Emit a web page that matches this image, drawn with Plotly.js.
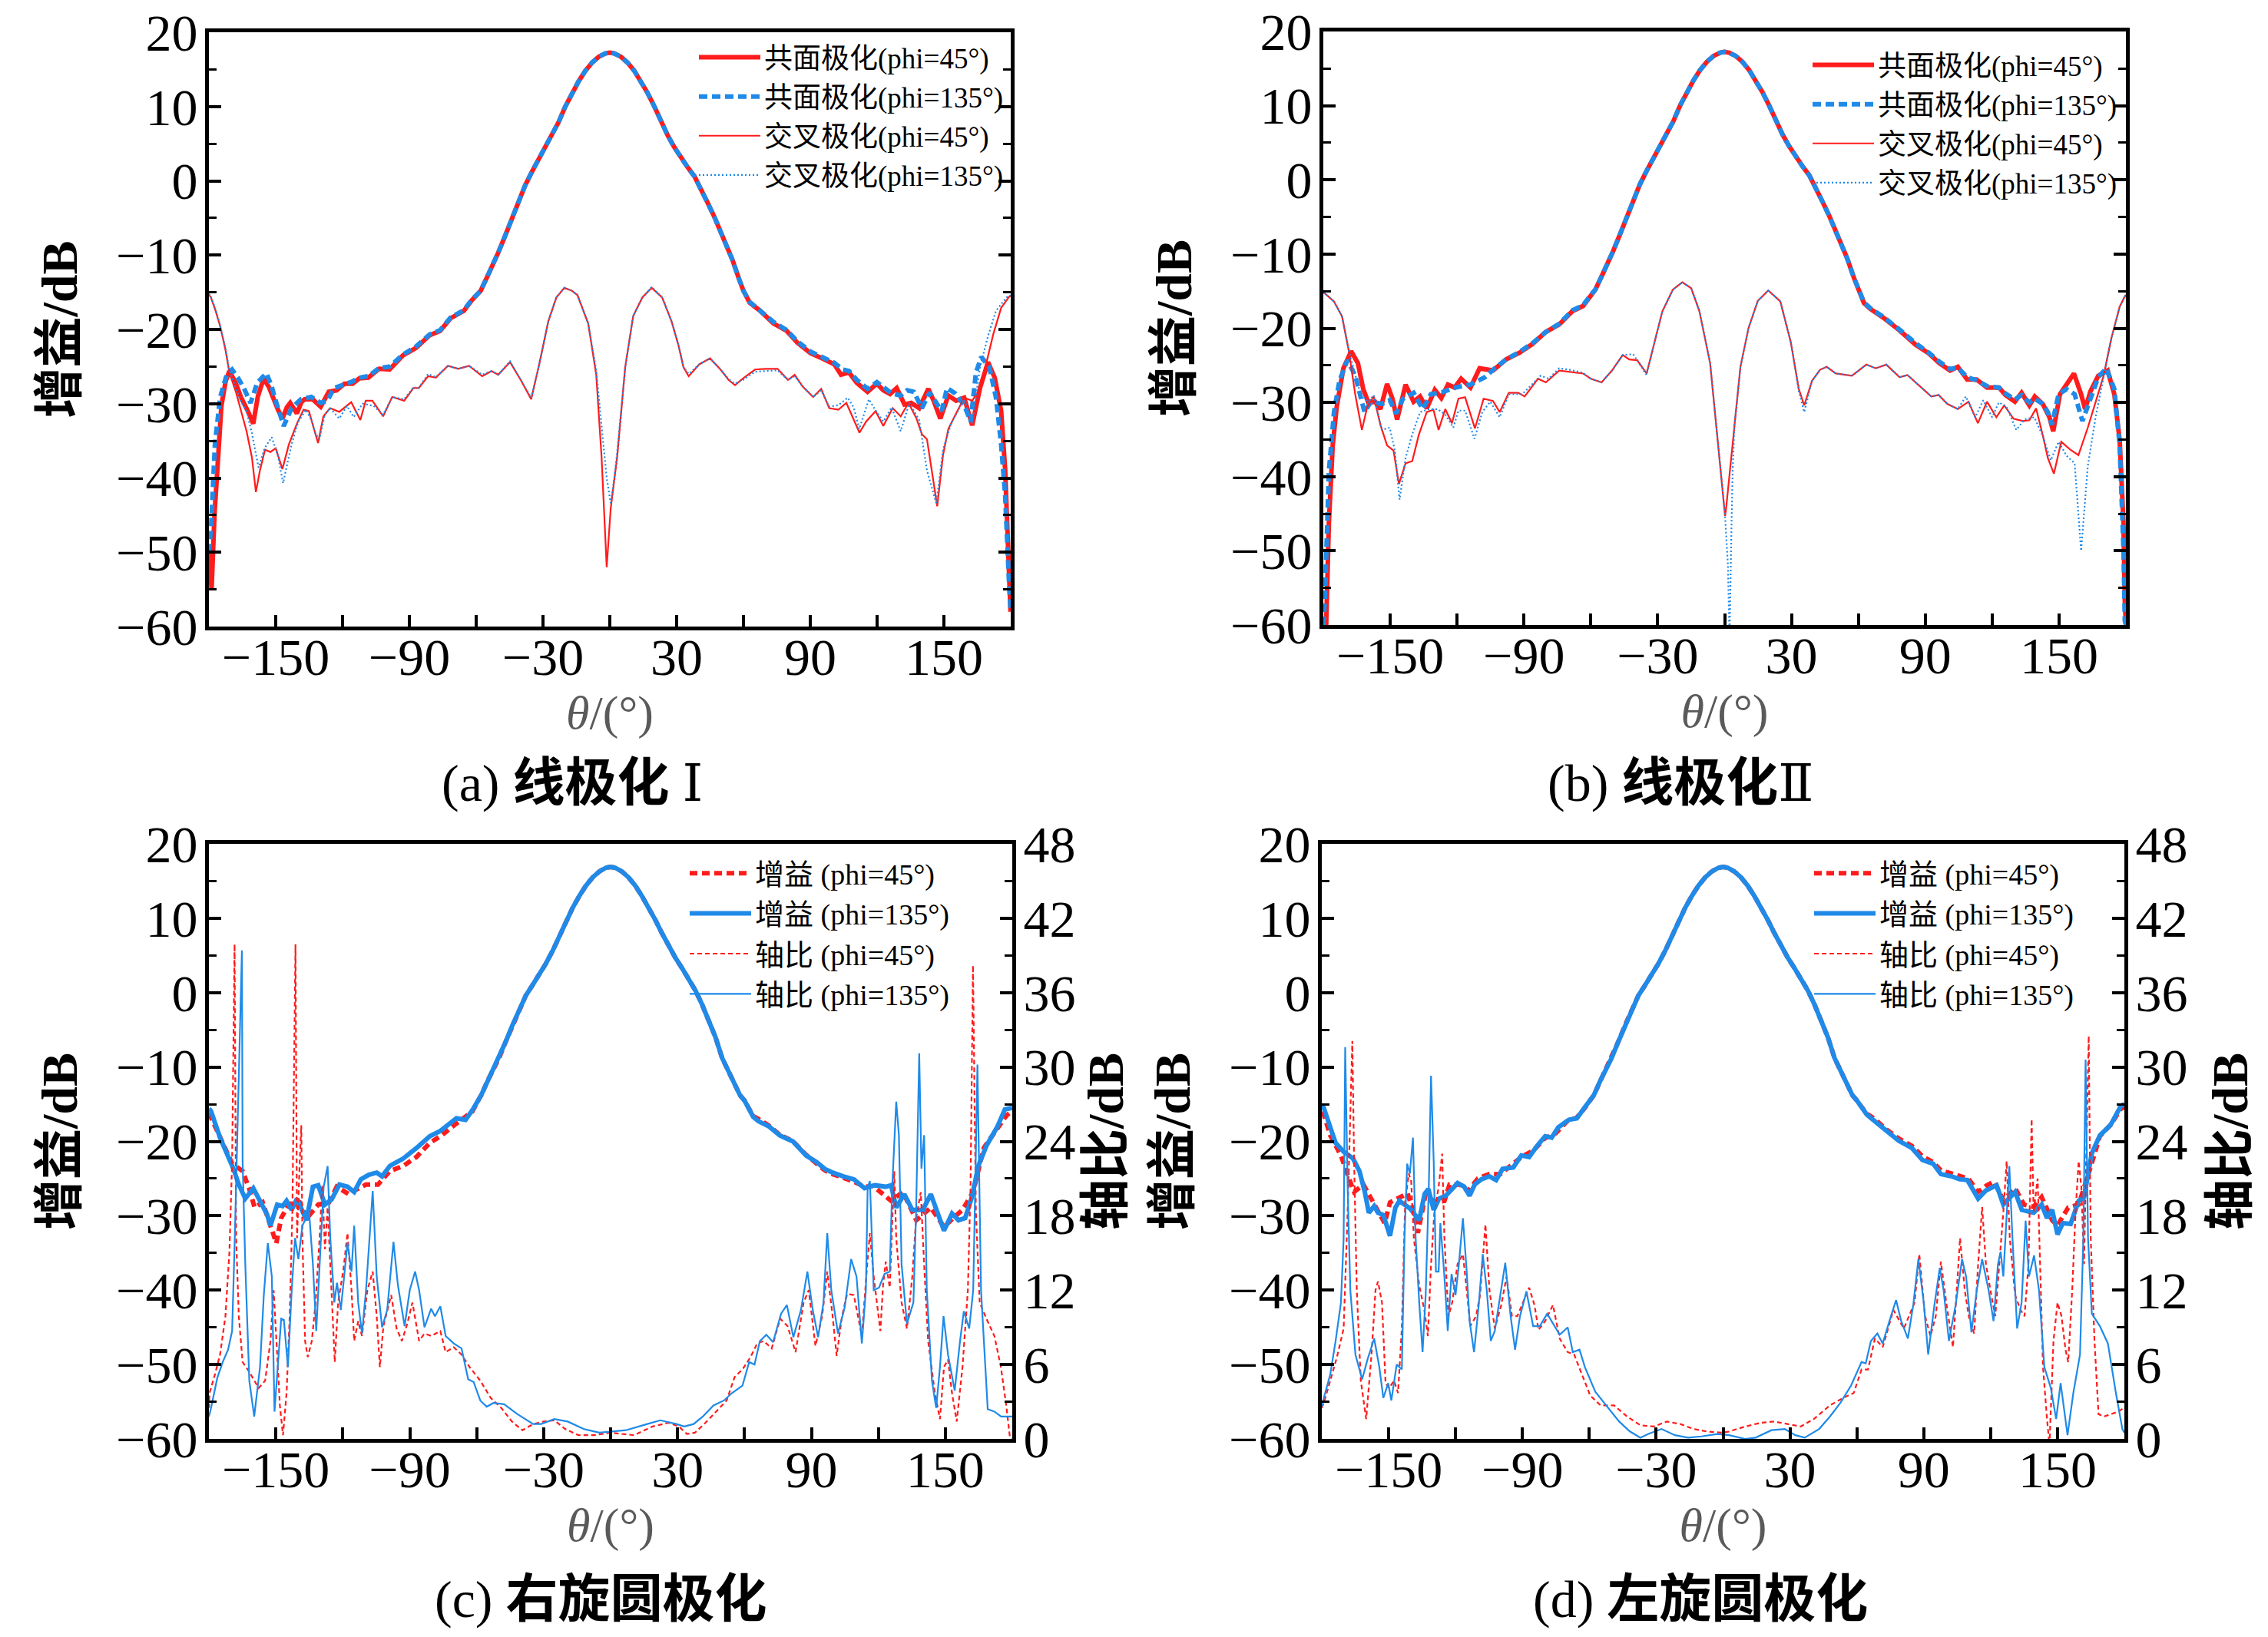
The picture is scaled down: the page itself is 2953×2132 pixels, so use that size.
<!DOCTYPE html>
<html><head><meta charset="utf-8">
<script src="https://cdn.plot.ly/plotly-3.0.1.min.js"></script>
<style>html,body{margin:0;padding:0;background:#fff}#chart{width:2953px;height:2132px}</style>
</head><body><div id="chart"></div>
<script>
// ---------------- DATA (theta in degrees, gain in dB, axial ratio in dB) ----------------
const THETA_TICKS = [-150,-120,-90,-60,-30,0,30,60,90,120,150];
const THETA_LABELS = ['\u2212150','','\u221290','','\u221230','','30','','90','','150'];
const LEGEND_LP = ['共面极化(phi=45°)','共面极化(phi=135°)','交叉极化(phi=45°)','交叉极化(phi=135°)'];
const LEGEND_CP = ['增益 (phi=45°)','增益 (phi=135°)','轴比 (phi=45°)','轴比 (phi=135°)'];
const CAPTIONS = ['(a) <b>线极化</b> Ⅰ','(b) <b>线极化</b>Ⅱ','(c) <b>右旋圆极化</b>','(d) <b>左旋圆极化</b>'];

// shared main lobe (linear polarisation panels)
const MAIN_LP = [[-58,-14.8],[-55,-12.9],[-52,-11.0],[-50,-9.6],[-47,-7.4],[-44,-5.0],[-41,-2.8],[-38,-0.6],[-35,1.2],[-32,2.8],[-29,4.4],[-26,6.0],[-23,7.9],[-20,10.0],[-17,11.8],[-14,13.4],[-11,14.8],[-8,15.9],[-5,16.7],[-2,17.15],[0,17.25],[2,17.15],[5,16.7],[8,15.9],[11,14.8],[14,13.4],[17,11.8],[20,10.0],[23,8.0],[26,6.1],[29,4.5],[32,3.1],[35,1.8],[38,0.6],[41,-1.1],[44,-3.0],[47,-4.9],[50,-6.9],[53,-9.0],[55,-10.6],[58,-13.2],[60,-14.8]];
// shared main lobe (circular polarisation panels)
const MAIN_CP = [[-58,-13.8],[-55,-11.8],[-52,-10.1],[-50,-8.8],[-47,-6.6],[-44,-4.4],[-41,-2.3],[-38,-0.4],[-35,1.0],[-32,2.4],[-29,3.9],[-26,5.6],[-23,7.6],[-20,9.6],[-17,11.4],[-14,13.0],[-11,14.4],[-8,15.5],[-5,16.3],[-2,16.8],[0,16.9],[2,16.8],[5,16.3],[8,15.5],[11,14.4],[14,13.0],[17,11.5],[20,9.8],[23,8.0],[26,6.2],[29,4.7],[32,3.3],[35,1.8],[38,0.3],[41,-1.6],[44,-3.8],[47,-6.0],[50,-8.8],[53,-10.8],[56,-12.6],[58,-13.8],[60,-14.5]];

// (a) linear polarisation I
const A_CO45_L = [[-180,-50],[-178.8,-55],[-177.5,-45],[-176.2,-38.9],[-175,-33],[-174.4,-30.3],[-172.5,-27],[-170.8,-25.6],[-168,-27.2],[-165.5,-29.2],[-162.5,-31],[-160.1,-32.7],[-158,-29],[-155.4,-26.6],[-153,-27.8],[-151.2,-29.2],[-149,-30.8],[-147,-32],[-145,-30.5],[-143.5,-29.9],[-140.5,-31.3],[-138.5,-29.8],[-137,-29.4],[-133.4,-29.4],[-129.8,-30.4],[-126.2,-28.4],[-122.7,-28.2],[-119.1,-27.3],[-115.5,-27.3],[-112.5,-26.6],[-108.4,-26.5],[-103.6,-25.3],[-98.9,-25.4],[-92.9,-23.5],[-87,-22.5],[-81,-20.8],[-76.2,-20.2],[-71.5,-18.5],[-65.5,-17.5],[-62,-16.1]];
const A_CO45_R = [[62.8,-16.4],[67.5,-17.5],[73.5,-19.2],[79.4,-20.2],[84.2,-21.8],[90.1,-23.2],[96.1,-24],[100.8,-24.7],[103.8,-26.1],[107.4,-25.8],[110.9,-27.2],[115.7,-28.4],[119.9,-27.3],[122.8,-28.2],[125.8,-28.7],[128.8,-27.9],[132.3,-30.1],[135.3,-29.9],[138.9,-30.6],[143,-28],[145.4,-29.6],[148.4,-32],[152,-28.9],[155.5,-29.6],[159.1,-29.2],[162.7,-32.9],[166.2,-27.9],[169.8,-24.4],[172.8,-26.5],[175.7,-31],[177.5,-38.9],[178.7,-49.3],[179.9,-58]];
const A_CO135_L = [[-180,-50],[-179,-46.5],[-177.3,-35.5],[-175,-29.2],[-172,-26.1],[-169.6,-25.4],[-167,-26.5],[-164.3,-27.9],[-161.3,-29.9],[-158.3,-27.2],[-154.2,-25.9],[-152,-27.5],[-150,-29.6],[-146.4,-33],[-142.9,-30.6],[-138.7,-29.4],[-134,-29.1],[-129.8,-29.9],[-126.8,-29.6],[-123.8,-27.9],[-119.1,-27.4],[-115.5,-27.0],[-112.5,-26.5],[-108.4,-26.3],[-103.6,-25.2],[-98.9,-25.0],[-92.9,-23.4],[-87,-22.3],[-81,-20.7],[-76.2,-20.1],[-71.5,-18.4],[-65.5,-17.4],[-62,-16.0]];
const A_CO135_R = [[62.8,-16.3],[67.5,-17.4],[73.5,-19.0],[79.4,-20.1],[84.2,-21.6],[90.1,-23.0],[96.1,-23.8],[100.8,-24.5],[104.5,-25.4],[107.4,-25.6],[110.9,-26.8],[115.7,-28.0],[119.9,-27.1],[122.8,-27.8],[126.5,-28.6],[130.6,-28.9],[133.5,-28.2],[136.5,-28.4],[140.1,-30.6],[143.6,-28.5],[146.5,-29.8],[149,-31],[151.4,-27.9],[155,-28.6],[159.1,-30.2],[162,-32.4],[164.4,-25.8],[166.8,-23.7],[170.4,-25.1],[173.4,-29.2],[175.7,-35.5],[177.5,-42.4],[179.3,-54.5],[180,-58]];
const A_CX45 = [[-180,-15.3],[-179.1,-15.7],[-177,-17.5],[-175,-19.5],[-172.6,-22.7],[-170.8,-25.8],[-167.8,-28.5],[-165.5,-31],[-163.1,-33.7],[-160.7,-37.2],[-158.9,-41.9],[-157.1,-39],[-154.8,-36.2],[-152.4,-36.5],[-150,-36],[-147,-38.8],[-144.1,-35.5],[-140.5,-32.7],[-137.5,-30.8],[-135.1,-31],[-132.8,-33.4],[-131,-35.3],[-128.6,-31.7],[-125.6,-30.6],[-121.5,-31.1],[-116.1,-29.8],[-112,-32.2],[-109.6,-29.6],[-106.6,-29.6],[-101.8,-31.7],[-97.7,-29.1],[-92.3,-29.6],[-88.2,-27.9],[-85.8,-27.9],[-81.6,-26.3],[-78.1,-26.5],[-72.7,-24.9],[-68,-25.3],[-63.2,-24.9],[-57.3,-26.3],[-53.1,-25.6],[-50.1,-26.1],[-44.8,-24.4],[-40,-26.8],[-35.3,-29.4],[-31.7,-24.7],[-27.6,-18.9],[-24,-15.7],[-20.4,-14.4],[-17,-14.8],[-14.5,-15.4],[-9.7,-19.2],[-6.1,-26.1],[-3.7,-37.2],[-1.4,-52],[0.4,-44.1],[3.3,-37.2],[6.9,-25.1],[10.5,-18.2],[14.6,-15.7],[18.8,-14.4],[23.5,-15.7],[27.7,-18.9],[30.7,-22],[33.1,-25.1],[35.4,-26.3],[40.2,-24.7],[45,-23.9],[49.7,-25.4],[53.3,-26.8],[56.2,-27.5],[59.8,-26.6],[65.2,-25.4],[69.9,-25.3],[75.3,-25.3],[80,-26.8],[83,-26.1],[86.6,-27.7],[91.3,-29.1],[94.9,-28],[98.5,-30.6],[102.6,-30.8],[106.2,-29.9],[109.2,-32],[112.1,-33.9],[115.1,-32.4],[119.3,-31],[122.8,-33],[127,-30.6],[130.6,-31.7],[134.1,-29.9],[137.7,-32],[140.1,-34.1],[142.4,-34.8],[144.8,-39.6],[147,-43.8],[149.6,-36.9],[152,-33.4],[155.5,-31.3],[159.1,-29.2],[162.7,-29.6],[165.1,-28.5],[168.6,-25.1],[172.2,-20.6],[175.7,-17.1],[179.3,-15.6],[180,-15.5]];
const A_CX135 = [[-180,-15.2],[-179.1,-15.6],[-177,-17.3],[-175,-19.4],[-172.6,-22.5],[-170.8,-25.5],[-167.8,-28],[-165.5,-29.8],[-163.1,-31],[-160.7,-34],[-157.7,-38.6],[-155,-36],[-151.8,-34.5],[-149,-37],[-146.7,-40.7],[-142.9,-35.5],[-140,-32.5],[-136.4,-30.8],[-134,-32.2],[-132.2,-34],[-130.4,-34.8],[-128,-31.5],[-125.6,-30.6],[-121.5,-32],[-118,-30.3],[-115,-31.8],[-111,-30.0],[-106,-30.3],[-101.8,-31.5],[-97.7,-29.1],[-92.3,-29.4],[-88.2,-27.8],[-85.8,-27.9],[-81.6,-26.0],[-78.1,-26.4],[-72.7,-24.9],[-68,-25.3],[-63.2,-24.9],[-57.3,-26.1],[-53.1,-25.6],[-50.1,-26.1],[-44.8,-24.3],[-40,-26.8],[-35.3,-29.2],[-31.7,-24.7],[-27.6,-18.9],[-24,-15.7],[-20.4,-14.4],[-17,-14.8],[-14.5,-15.4],[-9.7,-19.2],[-6.1,-25.5],[-3.7,-33],[-1.4,-40],[0.4,-43.4],[2,-40],[3.3,-36.5],[6.9,-25.1],[10.5,-18.2],[14.6,-15.7],[18.8,-14.3],[23.5,-15.7],[27.7,-18.9],[30.7,-22],[33.1,-25.1],[35.4,-26.0],[40.2,-24.7],[45,-23.9],[49.7,-25.4],[53.3,-26.7],[56.2,-27.3],[59.8,-26.8],[65.2,-25.7],[69.9,-25.6],[75.3,-25.5],[80,-26.8],[83,-26.3],[86.6,-27.7],[91.3,-29.1],[94.9,-28.2],[98.5,-30.4],[102.6,-30.2],[106.8,-29.2],[109.5,-30.5],[112,-33.4],[116.3,-29.4],[119.3,-30.9],[122.8,-32.4],[126.5,-30.5],[130.6,-33.7],[134.5,-29.9],[138.9,-32.2],[142.4,-39],[146.6,-43.4],[149.6,-36.2],[153.2,-32.7],[159.1,-29.4],[162.7,-32.7],[166.2,-25.1],[169.8,-20.9],[173.4,-17.5],[178.1,-15.7],[180,-15.4]];

// (b) linear polarisation II
const B_CO45_L = [[-180,-60],[-178.7,-59.8],[-177.5,-46.2],[-175.8,-35.8],[-174,-30.6],[-171,-25.4],[-167.5,-23.1],[-164.5,-24.7],[-162.1,-28.2],[-159.7,-30.1],[-156.8,-29.9],[-154.4,-30.9],[-151.4,-27.5],[-149,-29.5],[-146.9,-32.3],[-143.1,-27.6],[-139.5,-29.9],[-136.6,-29.2],[-133.6,-30.8],[-130,-28.3],[-127.1,-29.4],[-124.1,-27.6],[-121.1,-28],[-118.2,-26.8],[-114,-28],[-109.9,-25.4],[-103.9,-25.7],[-98,-24.2],[-92,-23.3],[-86.1,-22.1],[-80.2,-20.5],[-74.2,-19.5],[-68.3,-17.7],[-63.5,-17],[-60.5,-15.8]];
const B_CO45_R = [[62.5,-16.6],[65.4,-17.4],[71.3,-18.6],[78.5,-20.3],[85.6,-22.2],[91.6,-23.4],[96.3,-24.7],[101.1,-25.7],[104.6,-25.2],[108.8,-26.9],[113,-26.9],[117.7,-28],[123.1,-28],[126,-29],[130.2,-29.9],[133.2,-28.7],[136.7,-30.4],[139.1,-29.2],[142.7,-30.2],[145.7,-32],[147.4,-33.9],[150.4,-28.9],[153.4,-27.5],[156.7,-26.1],[159.9,-28.9],[161.7,-30.9],[164.1,-28.5],[167.6,-26.4],[171.8,-25.7],[174.8,-28.9],[177.2,-35.1],[178.9,-46.2],[179.5,-56.6],[180,-60]];
const B_CO135_L = [[-180,-60],[-179.3,-56.6],[-177.5,-39.3],[-175.2,-31.3],[-172.8,-27.1],[-169.2,-24.3],[-165.7,-26.4],[-163.3,-28.9],[-161.5,-31.3],[-158.6,-29.9],[-153.8,-30.2],[-150.2,-29.7],[-147.3,-31.5],[-144.3,-29.5],[-139.5,-28.7],[-135.4,-30.9],[-131.8,-28.9],[-126.5,-28.6],[-121,-28.0],[-114,-27.6],[-107.5,-26.6],[-103.9,-25.6],[-98,-24.2],[-92,-23.2],[-86.1,-22.0],[-80.2,-20.5],[-74.2,-19.4],[-68.3,-17.6],[-63.5,-16.9],[-60.5,-15.7]];
const B_CO135_R = [[62.5,-16.5],[65.4,-17.3],[71.3,-18.5],[78.5,-20.2],[85.6,-22.0],[91.6,-23.3],[96.3,-24.5],[101.1,-25.5],[104.6,-25.3],[108.8,-26.6],[113,-27.0],[117.7,-27.8],[123.1,-28.0],[126,-28.8],[130.2,-29.6],[133.2,-29.0],[136.7,-30.0],[139.1,-29.5],[142.7,-30.2],[145,-31.3],[146.8,-33],[149.8,-28.9],[153.4,-28.2],[157,-28.9],[160.5,-32.5],[164.1,-29.5],[167.6,-26.6],[171.2,-25.4],[174.8,-28.2],[177.2,-35.8],[178.9,-49.7],[179.5,-59.4],[180,-60]];
const B_CX45 = [[-180,-15.2],[-179.3,-15.3],[-175.2,-16.4],[-171.6,-18.4],[-168.6,-23],[-165.7,-28.9],[-162.7,-33.7],[-160.3,-30.6],[-157.4,-29.2],[-154.4,-33],[-151.4,-35.8],[-148.5,-36.5],[-146.1,-41],[-143.1,-38.2],[-140.1,-37.9],[-137.2,-34.4],[-133.6,-31.3],[-130.6,-31],[-128.3,-33.7],[-125.3,-30.9],[-122.3,-32.8],[-119.4,-29.5],[-116.4,-29.3],[-112,-33.5],[-108.1,-29.5],[-103.9,-29.8],[-100.9,-31.3],[-96.8,-28.7],[-92.6,-28.7],[-89.7,-29.2],[-83.7,-26.8],[-80.2,-27.3],[-74.2,-25.7],[-69.5,-25.9],[-63.5,-26.1],[-60,-26.8],[-55.2,-27.3],[-50.5,-25.7],[-45.7,-23.6],[-42.8,-24.2],[-39.2,-24.3],[-35,-26.1],[-31.5,-21.9],[-27.9,-17.7],[-23.2,-14.8],[-19,-13.8],[-15,-14.6],[-11.3,-17.7],[-6.5,-24.7],[-3,-35.8],[0.2,-45.3],[0.6,-44.5],[4.2,-33.8],[7.1,-25.2],[10.7,-20],[14.9,-16.3],[19.6,-14.9],[25,-16.4],[29.7,-21.9],[33.3,-28.2],[35.7,-30.4],[39.2,-27.1],[42.8,-25.6],[45.8,-25.2],[49.9,-26.1],[57.1,-26.4],[63.6,-24.9],[67.8,-25.4],[72.5,-24.9],[78.5,-26.6],[82,-26.3],[89.2,-28.3],[92.7,-29.2],[96,-29.0],[99.9,-30.2],[104.6,-30.9],[109.4,-29.9],[113.6,-32.8],[117.7,-29.9],[121.9,-32],[125.4,-30.4],[129.6,-32.2],[133.8,-32.5],[136.7,-32.4],[139.7,-30.8],[142.7,-34.4],[145,-37.5],[147.7,-39.6],[151,-35.3],[155.2,-36.4],[158.7,-37.1],[162.9,-33.4],[166.5,-29.9],[170,-26.4],[173.6,-21.2],[177.2,-17.1],[179.5,-15.7],[180,-15.5]];
const B_CX135 = [[-180,-15.2],[-179.3,-15.3],[-175.2,-16.4],[-171.6,-18.4],[-168.6,-23],[-165.7,-26.1],[-163.3,-28.9],[-159.7,-29.9],[-157.4,-29],[-153.8,-33.7],[-150.2,-33.4],[-147.9,-36.5],[-145.8,-43.1],[-143.1,-37.5],[-140.1,-34.3],[-136.6,-31.3],[-132.4,-30.9],[-128.8,-30.9],[-125.3,-31.6],[-121.7,-33.4],[-119.4,-31.1],[-116.4,-31.1],[-112.2,-34.9],[-108.7,-31.3],[-105.1,-29.9],[-100.9,-32],[-96.8,-28.9],[-90.8,-28.9],[-82.5,-26.4],[-78.9,-26.8],[-74.2,-25.4],[-69.5,-25.6],[-63.5,-26.0],[-60,-26.8],[-55.2,-27.3],[-50.5,-25.7],[-45.7,-23.6],[-41,-23.5],[-39.2,-24.3],[-35,-26.3],[-31.5,-21.9],[-27.9,-17.7],[-23.2,-14.8],[-19,-13.8],[-15,-14.6],[-11.3,-17.7],[-6.5,-24.7],[-3,-35.8],[0.2,-45.3],[1.5,-52],[2.2,-62],[3,-48],[3.6,-39.3],[4.4,-33],[7.1,-25.2],[10.7,-20],[14.9,-16.3],[19.6,-14.9],[25,-16.4],[29.7,-21.9],[33.3,-28.5],[35.7,-31.3],[39.2,-27.1],[42.8,-25.6],[45.8,-25.2],[49.9,-26.1],[57.1,-26.4],[63.6,-24.9],[67.8,-25.4],[72.5,-24.9],[78.5,-26.6],[82,-26.3],[89.2,-28.3],[92.7,-29.2],[96,-29.0],[99.9,-30.2],[104.6,-30.9],[108.2,-29.2],[112.4,-32],[116,-29.7],[120,-32],[123,-30],[126.5,-30.6],[130.8,-33.7],[134.5,-32.3],[138.9,-32],[142.7,-34.5],[146.3,-37.8],[149.8,-35.3],[153.4,-37.2],[157,-38.2],[159.9,-50],[162.9,-38.6],[166.5,-31.8],[170,-26.6],[173,-22],[177.2,-17.1],[179.5,-15.7],[180,-15.5]];

// (c) right-hand circular polarisation
const C_G45_L = [[-180,-16.2],[-179,-16.8],[-173.8,-20.2],[-169.6,-23],[-164.9,-24],[-161.9,-26.4],[-159.5,-28.9],[-155.9,-28.2],[-152.4,-31.3],[-149.8,-33.7],[-147.6,-30.3],[-144,-28.4],[-139.3,-28.2],[-136.3,-30.4],[-131,-28.5],[-126.2,-28.2],[-122.7,-26.1],[-117.3,-27.1],[-114,-26.5],[-109.6,-25.8],[-104.2,-25.8],[-98.9,-24],[-92.9,-23.3],[-87,-22.1],[-81,-20.2],[-75.7,-19.2],[-69.1,-17.6],[-62,-16],[-59.5,-14.6]];
const C_G45_R = [[63.9,-16.6],[66.3,-17.0],[71,-17.9],[75.8,-19.1],[81.7,-20.0],[87.6,-21.8],[92.4,-22.9],[96,-23.9],[99.5,-24.4],[104.3,-24.9],[109,-25.4],[113.8,-26.1],[117.5,-26.0],[120.9,-26.8],[125.7,-28],[131,-26.8],[137,-30.6],[143.5,-28.9],[149.4,-31.5],[154,-30.2],[157.7,-29.2],[162.5,-26.8],[167.2,-20.9],[173,-18.4],[177.5,-16.5],[180,-15.9]];
const C_G135_L = [[-180,-15.6],[-179.1,-15.9],[-175,-19.5],[-171.4,-22],[-169,-23.7],[-166.6,-25.8],[-163.7,-27.7],[-160.1,-26.3],[-156.5,-28.2],[-154,-29.8],[-152.4,-31.3],[-149.4,-28.5],[-147,-28.7],[-145.2,-28],[-142.9,-29.2],[-140.5,-27.7],[-136.3,-30.6],[-133.4,-26.1],[-131,-25.9],[-128,-28.5],[-125,-27.8],[-121.5,-25.8],[-117.9,-26.1],[-114.9,-26.8],[-111.9,-25.1],[-108.4,-24.5],[-104.8,-24.2],[-102.4,-24.7],[-98.9,-23.3],[-92.9,-22.3],[-87,-20.9],[-81,-19.3],[-76.3,-18.6],[-69.1,-16.9],[-65,-17.1],[-61.5,-15.6]];
const C_G135_R = [[63.9,-16.7],[66.3,-17.3],[71,-18],[75.8,-19.2],[81.7,-20],[87.6,-21.9],[92.4,-22.8],[96,-23.7],[99.5,-24.2],[104.3,-24.7],[109,-25.1],[113.8,-26.3],[118.5,-25.9],[123.3,-26.1],[125.7,-25.9],[128,-28.9],[131.6,-27.1],[135.2,-29.2],[139.9,-29.2],[143.5,-27.1],[146.4,-29.6],[149.4,-32],[153,-29.7],[155.9,-30.6],[158.9,-30.3],[161.9,-27.5],[164.8,-23.3],[168.4,-20.6],[173.2,-18.1],[176.7,-15.7],[180,-15.5]];
const C_AR45 = [[-180,2.5],[-179.7,3.7],[-177.3,5.2],[-175,6.8],[-172.6,9.9],[-170.8,15.1],[-169.6,22.4],[-168.5,39.9],[-167.8,16.2],[-166.6,9.9],[-164.9,6.2],[-161.9,5.4],[-157.7,4.1],[-154.8,4.7],[-152.4,7.9],[-151,12],[-149.4,6.8],[-148.2,2.7],[-146.8,0.3],[-145.2,3.7],[-143.8,9.9],[-142.6,18.3],[-141.2,39.9],[-140.5,16.2],[-139.3,22.4],[-138.6,25.3],[-138.1,16.2],[-136.9,7.9],[-135.7,6.6],[-133.9,7.9],[-132.2,11],[-130.4,16.2],[-129.2,20.5],[-128,15.3],[-126.8,18.7],[-125,12],[-123.6,6.2],[-122.1,11],[-119.7,13.7],[-117.9,16.6],[-116.1,12],[-114.9,7.9],[-113.1,9.5],[-111.4,8.3],[-109,12],[-106.6,13.5],[-104.8,9.9],[-103.4,5.8],[-101.8,9.1],[-98.3,11.6],[-95.9,8.9],[-93.5,7.9],[-91.1,9.3],[-88.8,11],[-85.8,7.9],[-83.4,8.5],[-80.4,8.3],[-76.3,8.7],[-73.9,7],[-70.3,7.4],[-66.8,6.8],[-63.2,5.8],[-58.4,4.7],[-53.7,3.3],[-49,2.5],[-44.2,1.4],[-39.5,0.7],[-34.7,1.2],[-30,1.4],[-25.2,1.5],[-20.4,0.8],[-14.4,0.3],[-7.3,0.3],[-0.2,0.5],[4.5,0.4],[10.5,0.3],[18.8,1],[25.9,1.3],[30.6,1],[34.2,0.4],[37.8,0.5],[42.5,1.3],[47.3,2.2],[52,3.1],[55.6,5],[59.1,5.6],[62.7,6.6],[65.7,7.7],[68.6,7.9],[72.2,7.3],[76,9.7],[79.3,9.1],[82.9,7],[86.5,11],[88.8,12],[91.8,7.5],[94.8,9.9],[97.1,13.5],[99.5,9.9],[101.3,6.7],[103.7,9.9],[106,11.7],[109,11.6],[110.8,9.9],[112.6,8.3],[115,14.1],[116.2,16.6],[117.9,13.1],[119.7,10.4],[120.9,8.7],[122.1,12.4],[123.3,14.3],[125.1,12.2],[126.2,17.4],[127.1,21.6],[128,16.2],[130.4,11],[132.8,8.9],[135.2,13.1],[136.9,17.8],[139,19.9],[140.5,14.1],[142.3,7.9],[145.3,3.7],[147.6,1.6],[149.4,5.8],[151.2,6.4],[153,3.7],[155.1,1.4],[157.7,5.8],[160.1,12],[161.3,20.3],[162.4,38.2],[163.7,18.3],[165.4,11],[168.4,9.7],[172,8.3],[174.9,5.8],[177.3,2.7],[178.9,0.2],[180,0]];
const C_AR135 = [[-180,1.8],[-179.1,2.45],[-176.2,4.95],[-173.8,6.2],[-171.4,7.2],[-169.6,8.7],[-168.4,16.2],[-166.9,27.6],[-165.2,39.4],[-164.9,22.4],[-163.7,14.1],[-161.9,4.7],[-159.7,1.8],[-157.1,5.8],[-155.4,11.6],[-153.6,15.8],[-151.8,13.1],[-150.6,2.2],[-148.8,6.8],[-147.6,9.7],[-146.4,9.6],[-144.6,5.8],[-142.9,12],[-141.4,16.2],[-139.9,14.5],[-138.1,17.2],[-135.1,18.3],[-133.4,14.1],[-131.9,8.7],[-130.4,14.1],[-128.6,20.3],[-126.8,22],[-125.6,16.2],[-123.8,11],[-122.6,12.6],[-120.9,10.4],[-119.1,13.5],[-117.9,15.8],[-116.1,13.5],[-114.9,17.2],[-113.1,11],[-111.4,8.5],[-109.6,12],[-106.6,20],[-104.8,13.1],[-102.4,9],[-100.1,10.4],[-97.3,15.9],[-95.3,12.4],[-92.3,9.1],[-90,12],[-87.6,13.5],[-85.8,12],[-83.4,9],[-80.4,10.5],[-78.7,9.9],[-76.3,10.7],[-73.9,8.3],[-70.3,7.7],[-66.8,7.3],[-63.8,4.8],[-61.4,4.6],[-58.4,3.1],[-55.5,2.6],[-52.5,2.9],[-47.7,2.8],[-41.8,2],[-34.7,1.2],[-31.1,1.2],[-25.2,1.6],[-19.2,1.4],[-12.1,0.8],[-5,0.5],[2.2,0.6],[6.9,0.7],[16.4,1.2],[22.3,1.5],[29.5,1.2],[33,1],[37.2,1.2],[41.3,1.8],[46.1,2.7],[50.8,3.1],[54.4,3.7],[59.1,4.3],[62.1,6.2],[64.5,6],[66.9,7.9],[69.8,8.4],[72.8,7.8],[76.4,10.1],[79,10.8],[81.9,8.2],[85.3,10.4],[88.2,13.5],[90.6,10.4],[93,8.2],[95.4,11],[97.1,16.6],[98.9,12],[101.9,8.5],[104.9,10.6],[107.8,14.5],[110.2,13.1],[112.6,7.7],[114.4,12],[115.2,20.3],[116.2,20.8],[117.9,12],[120.3,12.2],[122.7,13.3],[125.1,13.5],[126.2,20.3],[128,27.2],[129.2,24.5],[130.4,14.1],[132.8,9.3],[135.7,11],[136.9,18.3],[138.3,31.1],[139.3,21.8],[140.5,24.5],[141.7,12],[144,4.7],[145.9,2.5],[147.6,5.8],[149.2,9.9],[151.2,6.8],[154.2,3.9],[156.6,7.9],[158.3,10.3],[160.7,8.9],[162.5,12],[163.4,20.3],[164.4,30.2],[166,12],[169,2.4],[172,2.2],[175,1.8],[180,1.8]];

// (d) left-hand circular polarisation
const D_G45_L = [[-180,-16],[-179,-16.5],[-176.2,-19.2],[-171.4,-21.9],[-169,-24],[-165.5,-26.8],[-161.3,-25.8],[-158.3,-27.5],[-155,-29.5],[-151.8,-31],[-149.4,-28.2],[-145.2,-27.5],[-141.5,-27],[-138.1,-30.3],[-136.9,-32.3],[-133.5,-27.2],[-129,-28.2],[-125,-28.0],[-122.7,-25.8],[-118,-25.8],[-114.5,-26.7],[-110,-25.0],[-105,-24.4],[-100,-24.4],[-95,-23.2],[-90,-22.0],[-85,-21.2],[-80,-19.6],[-75,-18.9],[-70,-17.3],[-65.6,-16.8],[-62,-15.5]];
const D_G45_R = [[64.5,-16.3],[68.1,-17.0],[72.8,-18.3],[78.7,-19.6],[84.7,-20.6],[89.4,-22.0],[94.2,-22.8],[97.7,-23.9],[102.5,-24.3],[106.1,-24.7],[110,-25.0],[114.4,-26.8],[117.9,-26.0],[121.5,-25.4],[125.7,-27.9],[131,-26.3],[135,-28.5],[139.3,-28.8],[142.9,-27.5],[147.6,-30.6],[150,-31.3],[154.8,-28.9],[159.5,-28.5],[164.3,-24],[169,-19.3],[173.8,-17.8],[178.5,-15.6],[180,-15.4]];
const D_G135_L = [[-180,-15],[-179.1,-15.5],[-176.2,-18.1],[-173.8,-20.2],[-170.2,-21.4],[-166,-22.3],[-163.1,-24],[-160.7,-26.8],[-158.9,-29.6],[-156.5,-28.7],[-154.8,-29.6],[-152.4,-29.9],[-149.4,-32.7],[-147,-28.9],[-145.2,-28],[-140.5,-29],[-136.3,-30.6],[-133.9,-27.1],[-132.2,-26.4],[-129.8,-29.2],[-127.4,-27.7],[-124.4,-27.3],[-121.5,-26.4],[-119.1,-25.6],[-116.1,-26.1],[-113.7,-27.3],[-111.4,-25.8],[-108.4,-25.1],[-104.8,-24.7],[-101.8,-25.2],[-98.9,-23.7],[-94.1,-23.5],[-90.5,-21.9],[-87,-22.1],[-83.4,-20.6],[-79.8,-19.3],[-76.9,-19.5],[-73.9,-18.1],[-69.1,-17.1],[-65.6,-16.9],[-62,-15.4]];
const D_G135_R = [[64.5,-16.4],[68.1,-17.3],[72.8,-18.5],[78.7,-19.9],[84.7,-20.9],[89.4,-22.5],[94.2,-23],[97.7,-24.4],[102.5,-24.7],[106.1,-25.1],[109.6,-25.2],[114.4,-27.7],[117.9,-26.6],[122.7,-25.9],[125.7,-28.5],[131,-26.8],[134,-29.2],[139.3,-29.6],[142.9,-28.5],[145.3,-30.3],[147.6,-29.2],[150,-32.5],[152.4,-31],[155.9,-31.1],[159.5,-28],[161.9,-27.5],[165.4,-21.6],[169,-19.2],[173.8,-17.8],[178.5,-15.2],[180,-15]];
const D_AR45 = [[-180,2.5],[-179.1,2.9],[-176.2,4.7],[-173.2,6.6],[-170.2,8.9],[-168.4,18.3],[-166.3,32.1],[-165.5,22.4],[-164.3,12],[-162.5,4.7],[-160.1,1.6],[-157.7,6.8],[-155.9,12],[-154.8,12.7],[-153,11],[-151.4,4.5],[-149.8,4.1],[-147.6,4.7],[-145.8,3.7],[-144.1,8.9],[-142.6,19.1],[-141,21.4],[-139.9,20.8],[-138.7,16.2],[-136.3,12.4],[-134,10.4],[-132.4,8.3],[-131,14.1],[-129.5,18.3],[-127.6,20.3],[-126,23],[-125,16.2],[-123.2,9.9],[-121.5,11],[-119.1,14.1],[-116.7,14.9],[-115,12],[-113.4,9.1],[-110.8,9.9],[-109,11.6],[-106.6,17.3],[-104.8,12],[-102.4,8.9],[-99.5,10.8],[-97.1,13.1],[-94.7,9.9],[-92.3,9.9],[-89.4,11.2],[-87,12.2],[-84.6,10.8],[-82.8,8.8],[-79.8,9.5],[-76.3,10.8],[-73.3,8.1],[-69.7,7],[-66.8,6.8],[-63.2,5.2],[-59.6,3.5],[-54.9,2.7],[-48.9,2.7],[-43,1.8],[-37.1,1.1],[-31.1,1],[-25.2,1.4],[-19.2,1.2],[-13.3,0.8],[-7.3,0.6],[-0.2,0.5],[2.7,0.6],[9.9,1],[17,1.3],[22.9,1.4],[28.9,1.2],[34.8,1],[40.7,1.6],[47.9,2.7],[53.8,3.3],[58.6,3.7],[62.1,5.6],[65,5.6],[68.1,8.1],[71.6,7.4],[76.4,10.4],[81.1,8.9],[85.9,11],[88,14.9],[90.6,9.9],[93,8.3],[95.4,9.9],[97.7,14.3],[100.1,11],[103.1,7.4],[104.8,12],[106.3,16.2],[108.4,12],[110.2,9.9],[112.6,8.5],[114.4,14.1],[116.2,18.7],[117.9,14.1],[120.3,11.6],[122.1,9.9],[123.9,14.1],[125.7,18.3],[127.2,22.4],[128.6,16.2],[131,11.6],[133.4,10.4],[135.2,9.9],[137,14.1],[138.4,25.8],[139.3,18.3],[141.1,21],[142.3,14.1],[143.5,5.8],[145.3,1.6],[146.4,-0.5],[148.2,7.9],[150,11],[151.8,9.9],[153.6,7.2],[154.8,6.2],[156.6,12],[158.1,18.3],[159.5,22.4],[160.7,20.3],[161.9,14.1],[164,32.5],[164.9,16.2],[166.6,7.9],[168.4,2],[170.8,1.8],[173.8,2],[177.3,2.2],[179.7,2.5],[180,2.5]];
const D_AR135 = [[-180,2.6],[-179.1,3.3],[-176.2,5.2],[-173.8,7.9],[-171.4,11],[-170.2,16.2],[-169.5,31.6],[-168.4,20.3],[-167.2,12],[-164.9,6.8],[-161.9,4.8],[-159.5,6.4],[-156.5,8.1],[-154.2,5.8],[-152.4,3.3],[-150.2,4.5],[-148.8,3.1],[-146.4,6],[-144.1,5.6],[-142.9,16.2],[-141.7,22.2],[-140.5,21.4],[-139.1,24.3],[-137.9,16.2],[-136.3,11],[-134.8,7],[-133.4,11.6],[-132,20.3],[-131,29.3],[-129.8,22.4],[-128.8,13.5],[-127.6,13.5],[-126.8,17.4],[-125,13.1],[-123.5,8.7],[-121.8,13.3],[-120,11.6],[-118.5,14.1],[-116.7,17.8],[-115,13.5],[-113.7,9.5],[-111.7,7],[-109.6,10.8],[-107.8,14.9],[-106,12],[-104.2,7.9],[-102.4,8.7],[-100.1,11.4],[-97.7,14.2],[-95.3,9.9],[-93.3,7.2],[-91.1,9.9],[-88.2,11.9],[-85.2,9.1],[-82.2,9.1],[-78.9,10.1],[-75.7,9.1],[-73.3,8.4],[-69.7,9],[-67.4,7],[-64.4,7.2],[-62,5.8],[-57.3,3.8],[-52.5,2.7],[-46.6,1.4],[-41.8,0.6],[-37.1,0.1],[-33.5,0.4],[-27.6,0.8],[-21.6,0.3],[-15.7,0.1],[-9.7,0.2],[-2.6,0.4],[2.7,0.3],[9.9,0],[14.6,0.1],[21.7,0.7],[27.7,0.8],[32.4,0.3],[36.6,0.1],[43.1,0.8],[47.9,1.8],[52.6,2.9],[57.4,4.3],[62.1,6.2],[64,6.1],[66.3,7.9],[69.2,8.5],[71.6,7.7],[74.6,9.5],[77.6,11.2],[79.9,9.5],[82.9,8.1],[85.3,10.8],[87.6,14.5],[90,11],[92,6.8],[94.8,10.8],[97.2,13.8],[98.9,12],[101.3,7.9],[104.3,10.8],[107.2,14.5],[109,13.1],[111.4,8.6],[113.8,12],[116.2,14.5],[119.1,12],[121.3,9.5],[123.3,14.1],[124.5,15.1],[125.7,13.1],[127.2,18.3],[128.4,22],[129.8,16.2],[131.9,8.9],[133.9,11],[135.7,17.6],[137.2,13.1],[139.5,14.8],[141.7,12],[144.1,5.8],[147,4.1],[149.4,1.6],[151.4,4.5],[154.5,0.3],[157.1,3.7],[160.1,6.8],[161.6,16.2],[162.6,30.6],[163.7,16.2],[165.4,10.1],[169,9.1],[172.6,7.7],[176.2,3.7],[179.1,0.8],[180,0.5]];

// ---------------- RENDERING ----------------
const W = 2953, H = 2132;
const RED = '#ff1c1c', BLUE = '#1f8ae8';
const SERIF = "'Liberation Serif', 'DejaVu Serif', 'Noto Sans CJK SC', serif";
const fx = p => p / W, fy = p => 1 - p / H;

function join(...parts) {
  const x = [], y = [];
  parts.forEach(p => p.forEach(([t, v]) => { x.push(t); y.push(v); }));
  return {x, y};
}
function tr(d, name, xa, ya, leg, line) {
  return {type: 'scatter', mode: 'lines', x: d.x, y: d.y, name, xaxis: xa, yaxis: ya,
          legend: leg, line: Object.assign({shape: 'linear'}, line), hoverinfo: 'skip'};
}
const THICK = 6, THIN = 2.2;
const data = [
  tr(join(A_CO45_L, MAIN_LP, A_CO45_R), LEGEND_LP[0], 'x', 'y', 'legend', {color: RED, width: THICK}),
  tr(join(A_CO135_L, MAIN_LP, A_CO135_R), LEGEND_LP[1], 'x', 'y', 'legend', {color: BLUE, width: THICK, dash: '11px,6px'}),
  tr(join(A_CX45), LEGEND_LP[2], 'x', 'y', 'legend', {color: RED, width: THIN}),
  tr(join(A_CX135), LEGEND_LP[3], 'x', 'y', 'legend', {color: BLUE, width: THIN, dash: '2px,3px'}),

  tr(join(B_CO45_L, MAIN_LP, B_CO45_R), LEGEND_LP[0], 'x2', 'y2', 'legend2', {color: RED, width: THICK}),
  tr(join(B_CO135_L, MAIN_LP, B_CO135_R), LEGEND_LP[1], 'x2', 'y2', 'legend2', {color: BLUE, width: THICK, dash: '11px,6px'}),
  tr(join(B_CX45), LEGEND_LP[2], 'x2', 'y2', 'legend2', {color: RED, width: THIN}),
  tr(join(B_CX135), LEGEND_LP[3], 'x2', 'y2', 'legend2', {color: BLUE, width: THIN, dash: '2px,3px'}),

  tr(join(C_G45_L, MAIN_CP, C_G45_R), LEGEND_CP[0], 'x3', 'y3', 'legend3', {color: RED, width: THICK, dash: '10px,6px'}),
  tr(join(C_G135_L, MAIN_CP, C_G135_R), LEGEND_CP[1], 'x3', 'y3', 'legend3', {color: BLUE, width: THICK}),
  tr(join(C_AR45), LEGEND_CP[2], 'x3', 'y4', 'legend3', {color: RED, width: THIN, dash: '6px,4px'}),
  tr(join(C_AR135), LEGEND_CP[3], 'x3', 'y4', 'legend3', {color: BLUE, width: THIN}),

  tr(join(D_G45_L, MAIN_CP, D_G45_R), LEGEND_CP[0], 'x4', 'y5', 'legend4', {color: RED, width: THICK, dash: '10px,6px'}),
  tr(join(D_G135_L, MAIN_CP, D_G135_R), LEGEND_CP[1], 'x4', 'y5', 'legend4', {color: BLUE, width: THICK}),
  tr(join(D_AR45), LEGEND_CP[2], 'x4', 'y6', 'legend4', {color: RED, width: THIN, dash: '6px,4px'}),
  tr(join(D_AR135), LEGEND_CP[3], 'x4', 'y6', 'legend4', {color: BLUE, width: THIN})
];

const TICKFONT = {family: SERIF, size: 68, color: '#000'};
function xAxis(x0, x1, anchor) {
  return {domain: [fx(x0), fx(x1)], anchor, range: [-180, 180], tickmode: 'array',
    tickvals: THETA_TICKS, ticktext: THETA_LABELS, ticks: 'inside', ticklen: 15, tickwidth: 4,
    tickcolor: '#000', showline: true, linewidth: 5, linecolor: '#000', mirror: true,
    showgrid: false, zeroline: false, tickfont: TICKFONT, ticklabelstandoff: -24,
    title: {text: '<i>θ</i>/(°)', font: {family: SERIF, size: 62, color: '#5a5a5a'}, standoff: 0}};
}
function yGain(y0, y1, anchor, mirror) {
  return {domain: [fy(y1), fy(y0)], anchor, range: [-60, 20], tickmode: 'linear', tick0: 0, dtick: 10,
    ticks: 'inside', ticklen: 16, tickwidth: 4, tickcolor: '#000',
    minor: {tickmode: 'linear', tick0: 0, dtick: 5, ticks: 'inside', ticklen: 10, tickwidth: 3, tickcolor: '#000', showgrid: false},
    showline: true, linewidth: 5, linecolor: '#000', mirror, showgrid: false, zeroline: false,
    tickfont: TICKFONT, ticklabelstandoff: -4,
    title: {text: '<b>增益/dB</b>', font: {family: SERIF, size: 66, color: '#000'}, standoff: 30}};
}
function yAR(over, anchor, standoff) {
  return {overlaying: over, anchor, side: 'right', range: [0, 48], tickmode: 'linear', tick0: 0, dtick: 6,
    ticks: 'inside', ticklen: 16, tickwidth: 4, tickcolor: '#000',
    minor: {tickmode: 'linear', tick0: 0, dtick: 3, ticks: 'inside', ticklen: 10, tickwidth: 3, tickcolor: '#000', showgrid: false},
    showline: true, linewidth: 5, linecolor: '#000', showgrid: false, zeroline: false,
    tickfont: TICKFONT, ticklabelstandoff: -4,
    title: {text: '<b>轴比/dB</b>', font: {family: SERIF, size: 66, color: '#000'}, standoff}};
}
function legendAt(xp, yp, size) {
  return {x: fx(xp), y: fy(yp), xanchor: 'left', yanchor: 'top', bgcolor: 'rgba(0,0,0,0)',
    borderwidth: 0, itemwidth: 80, tracegroupgap: 0,
    font: {family: SERIF, size, color: '#000'}};
}
function caption(text, xp, yp) {
  return {text, x: fx(xp), y: fy(yp), xref: 'paper', yref: 'paper', xanchor: 'center', yanchor: 'middle',
    showarrow: false, font: {family: SERIF, size: 68, color: '#000'}};
}

const layout = {
  width: W, height: H, margin: {l: 0, r: 0, t: 0, b: 0}, paper_bgcolor: '#fff', plot_bgcolor: '#fff',
  showlegend: true,
  xaxis: xAxis(272, 1316, 'y'),
  yaxis: yGain(42, 816, 'x', 'ticks'),
  xaxis2: xAxis(1723, 2768, 'y2'),
  yaxis2: yGain(41, 814, 'x2', 'ticks'),
  xaxis3: xAxis(272, 1318, 'y3'),
  yaxis3: yGain(1099, 1874, 'x3', false),
  yaxis4: yAR('y3', 'x3', 18),
  xaxis4: xAxis(1721, 2766, 'y5'),
  yaxis5: yGain(1099, 1874, 'x4', false),
  yaxis6: yAR('y5', 'x4', 34),
  legend: legendAt(905, 44, 37),
  legend2: legendAt(2355, 54, 37),
  legend3: legendAt(893, 1106, 38),
  legend4: legendAt(2357, 1106, 38),
  annotations: [
    caption(CAPTIONS[0], 745, 1020),
    caption(CAPTIONS[1], 2188, 1020),
    caption(CAPTIONS[2], 783, 2083),
    caption(CAPTIONS[3], 2214, 2083)
  ]
};

Plotly.newPlot('chart', data, layout, {displayModeBar: false, staticPlot: true});
</script></body></html>
